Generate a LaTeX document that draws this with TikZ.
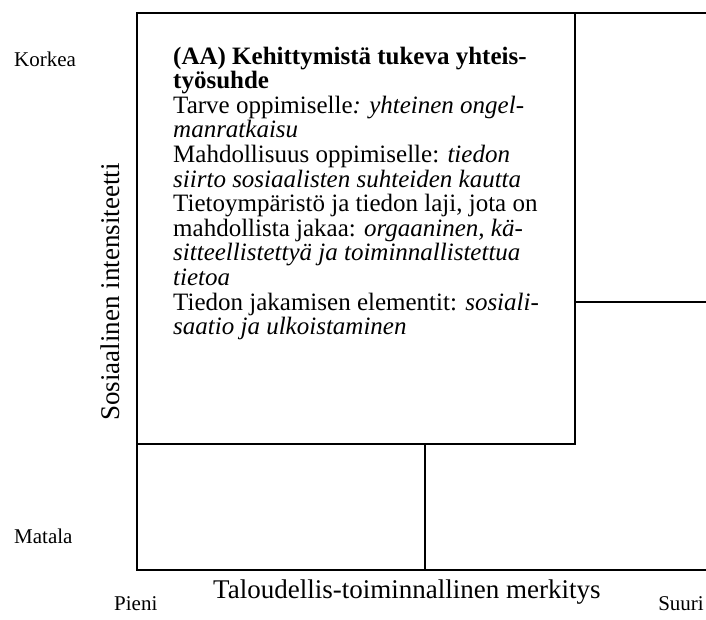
\documentclass[tikz,border=0pt]{standalone}
\usepackage{fontspec}
\setmainfont{Liberation Serif}
\begin{document}
\begin{tikzpicture}[x=1pt, y=-1pt,
  frame/.style={line width=1.6pt, line cap=rect},
  scalelabel/.style={inner sep=0pt, font=\fontsize{21}{23}\selectfont},
  axistitle/.style={inner sep=0pt, font=\fontsize{27}{29}\selectfont}]
\useasboundingbox (0,0) rectangle (706,619);

% grid corners
\coordinate (tl) at (137,13);
\coordinate (tr) at (706,13);
\coordinate (bl) at (137,570);
\coordinate (br) at (706,570);
\coordinate (boxtr) at (575,13);
\coordinate (boxbr) at (575,444);
\coordinate (boxbl) at (137,444);
\coordinate (midr) at (575,302);
\coordinate (edger) at (706,302);
\coordinate (midtop) at (425,444);
\coordinate (midbot) at (425,570);

% outer axes and cells
\draw[frame] (tr) -- (tl) -- (bl) -- (br);
\draw[frame] (boxtr) -- (boxbr) -- (boxbl);
\draw[frame] (midr) -- (edger);
\draw[frame] (midtop) -- (midbot);

% content of the highlighted cell
\node[anchor=base west, inner sep=0pt] (content) at (173,64) {%
  \parbox[t]{420pt}{\fontsize{25}{24.6}\selectfont\raggedright
  \textbf{(AA) Kehittymistä tukeva yhteis-}\\
  \textbf{työsuhde}\\
  Tarve oppimiselle\textit{: yhteinen ongel-}\\
  \textit{manratkaisu}\\
  Mahdollisuus oppimiselle: \textit{tiedon}\\
  \textit{siirto sosiaalisten suhteiden kautta}\\
  Tietoympäristö ja tiedon laji, jota on\\
  mahdollista jakaa: \textit{orgaaninen, kä-}\\
  \textit{sitteellistettyä ja toiminnallistettua}\\
  \textit{tietoa}\\
  Tiedon jakamisen elementit: \textit{sosiali-}\\
  \textit{saatio ja ulkoistaminen}}};

% scale labels
\node[scalelabel, anchor=west] (korkea) at (14,59) {Korkea};
\node[scalelabel, anchor=west] (matala) at (14,536) {Matala};
\node[scalelabel, anchor=base west] (pieni) at (114,610) {Pieni};
\node[scalelabel, anchor=base east] (suuri) at (704,610) {Suuri};

% axis titles
\node[axistitle, anchor=base west] (xtitle) at (213,598) {Taloudellis-toiminnallinen merkitys};
\node[axistitle, rotate=90, anchor=base] (ytitle) at (119,292) {Sosiaalinen intensiteetti};
\end{tikzpicture}
\end{document}
